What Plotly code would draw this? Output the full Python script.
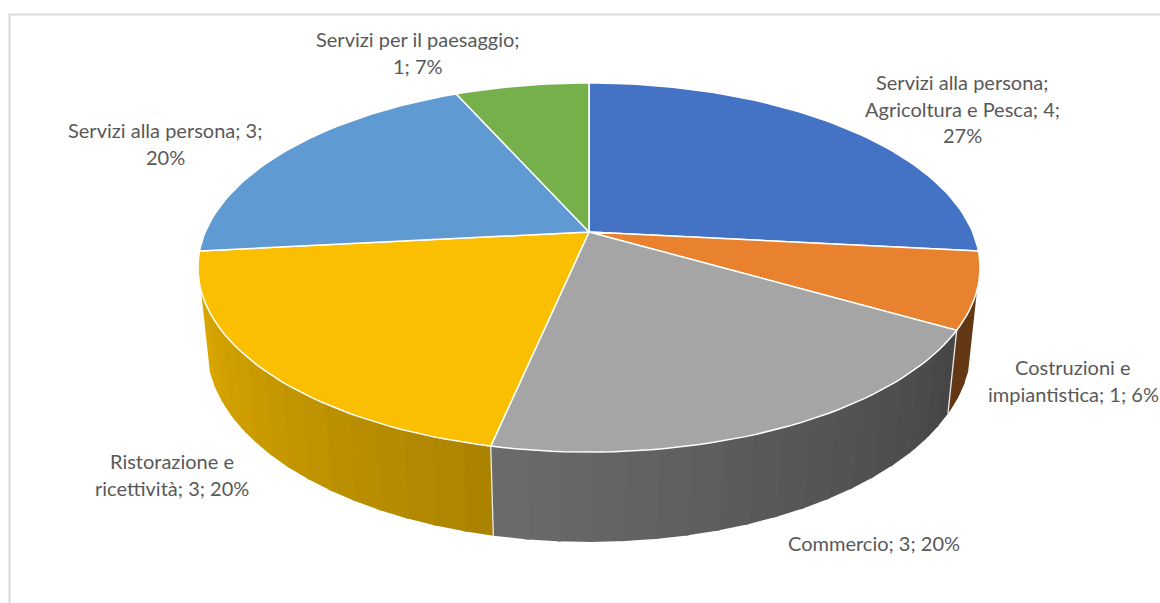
import math
import plotly.graph_objects as go

# Sector data, clockwise from twelve o'clock
categories = [
    "Servizi alla persona; Agricoltura e Pesca",
    "Costruzioni e impiantistica",
    "Commercio",
    "Ristorazione e ricettività",
    "Servizi alla persona",
    "Servizi per il paesaggio",
]
values = [4, 1, 3, 3, 3, 1]
percent_labels = [27, 6, 20, 20, 20, 7]
top_colors = ["#4472C4", "#E8822F", "#A5A5A5", "#F9BF00", "#5F9AD3", "#75B04A"]

# Data labels, wrapped line by line
label_lines = [
    ["Servizi alla persona;", "Agricoltura e Pesca; 4;", "27%"],
    ["Costruzioni e", "impiantistica; 1; 6%"],
    ["Commercio; 3; 20%"],
    ["Ristorazione e", "ricettività; 3; 20%"],
    ["Servizi alla persona; 3;", "20%"],
    ["Servizi per il paesaggio;", "1; 7%"],
]
label_centers = [(962, 82), (1073, 367), (874, 543), (172, 461), (165, 130), (418, 39)]
LINE_STEP = 26.5

# Perspective view of the disc: plane coordinates to page units
CX, CY = 589.0, 232.0
KX, KY, KP = 383.7, 177.7, 0.1924
DROP, SHRINK = 79.5, 0.022
FACET_DEG = 4.0
# The wall faces the viewer only between these two rim angles
WALL_FROM, WALL_TO = 108.0, 252.0


def project(theta_deg, level=0.0):
    """Rim point at a clockwise angle; level 1 is the underside of the disc."""
    t = math.radians(theta_deg)
    px, py = math.sin(t), math.cos(t)
    w = 1 + KP * py + SHRINK * level
    return CX + KX * px / w, CY - (KY * py - DROP * level) / w


def shade(hex_color, factor):
    r, g, b = (int(hex_color[i:i + 2], 16) for i in (1, 3, 5))
    return f"rgb({r * factor:.0f},{g * factor:.0f},{b * factor:.0f})"


def wall_factor(theta_deg):
    # Lighting brightens going clockwise round the front of the disc
    if theta_deg < 192:
        return max(0.425, 0.42 + (theta_deg - 120) * 0.0032)
    return 0.68 + (theta_deg - 192) * 0.0033


def polygon(xs, ys, fill, line_color, line_width):
    return go.Scatter(
        x=xs, y=ys, mode="lines", fill="toself", fillcolor=fill,
        line=dict(color=line_color, width=line_width),
        hoverinfo="skip", showlegend=False,
    )


total = sum(values)
spans = []
start = 0.0
for v in values:
    end = start + 360.0 * v / total
    spans.append((start, end))
    start = end

fig = go.Figure()

# Side wall: narrow facets, each one overlapping the previous so no seams show
for (a0, a1), color in zip(spans, top_colors):
    lo, hi = max(a0, WALL_FROM), min(a1, WALL_TO)
    if lo >= hi:
        continue
    n = max(1, round((hi - lo) / FACET_DEG))
    for i in range(n):
        t0 = lo + (hi - lo) * i / n
        t1 = lo + (hi - lo) * (i + 1) / n
        back = t0 - 0.6 if i > 0 else t0
        steps = [back + (t1 - back) * j / 3 for j in range(4)]
        upper = [project(t, 0) for t in steps]
        lower = [project(t, 1) for t in reversed(steps)]
        pts = upper + lower + [upper[0]]
        c = shade(color, wall_factor((t0 + t1) / 2))
        fig.add_trace(polygon([p[0] for p in pts], [p[1] for p in pts], c, c, 0))

# White seams where sectors meet on the wall
for a0, a1 in spans:
    if WALL_FROM < a1 < WALL_TO:
        p, q = project(a1, 0), project(a1, 1)
        fig.add_trace(go.Scatter(
            x=[p[0], q[0]], y=[p[1], q[1]], mode="lines",
            line=dict(color="#E8E8E8", width=1.3),
            hoverinfo="skip", showlegend=False,
        ))

# Top face of each sector
for (a0, a1), color in zip(spans, top_colors):
    n = max(2, int((a1 - a0) / 1.5))
    rim = [project(a0 + (a1 - a0) * i / n) for i in range(n + 1)]
    pts = [(CX, CY)] + rim + [(CX, CY)]
    fig.add_trace(polygon([p[0] for p in pts], [p[1] for p in pts], color, "#FFFFFF", 1.5))

annotations = []
for lines, (lx, ly) in zip(label_lines, label_centers):
    for i, text in enumerate(lines):
        annotations.append(dict(
            x=lx, y=ly + i * LINE_STEP, xref="x", yref="y", text=text,
            showarrow=False, xanchor="center", yanchor="middle",
            font=dict(family="Lato", size=20, color="#595959"),
        ))

fig.update_layout(
    width=1160, height=603, margin=dict(l=0, r=0, t=0, b=0),
    paper_bgcolor="#FFFFFF", plot_bgcolor="#FFFFFF",
    xaxis=dict(range=[0, 1160], visible=False, fixedrange=True),
    yaxis=dict(range=[603, 0], visible=False, fixedrange=True),
    annotations=annotations,
    # Chart-area border, running off the right and bottom
    shapes=[
        dict(type="line", xref="x", yref="y", x0=9.5, x1=9.5, y0=14, y1=603,
             line=dict(color="#D9D9D9", width=2)),
        dict(type="line", xref="x", yref="y", x0=9, x1=1160, y0=14.5, y1=14.5,
             line=dict(color="#D9D9D9", width=2)),
    ],
)

fig.write_html("out.html", config={"displayModeBar": False})
